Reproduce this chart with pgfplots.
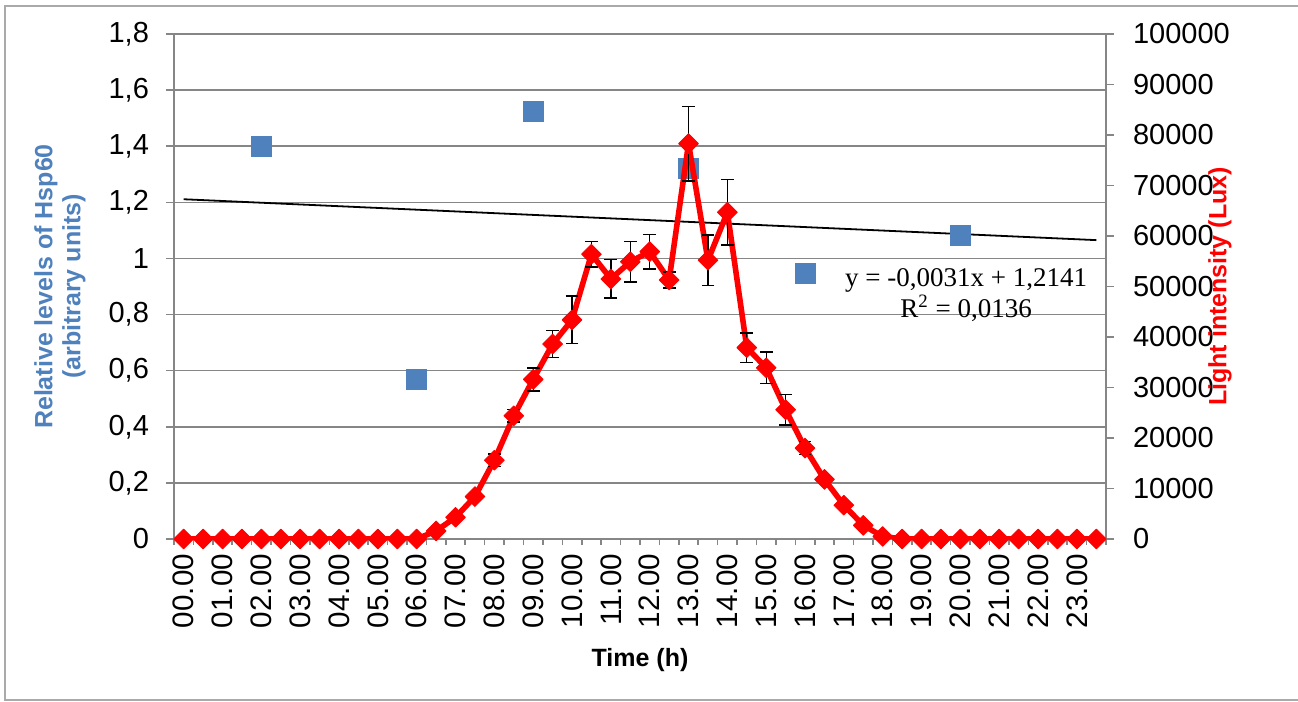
\documentclass[border=0pt]{standalone}
\usepackage{pgfplots}
\pgfplotsset{compat=1.18}
\usepackage{fontspec}
\setmainfont{Liberation Sans}
\newfontfamily\eqfont{Liberation Serif}
\definecolor{hspblue}{RGB}{79,129,189}
\definecolor{gridgray}{RGB}{134,134,134}
\definecolor{framegray}{RGB}{170,170,170}

% light intensity (Lux), one point per half hour, with error
\pgfplotstableread{
t lux err
0 0 0
1 0 0
2 0 0
3 0 0
4 0 0
5 0 0
6 0 0
7 0 0
8 0 0
9 0 0
10 0 0
11 0 0
12 0 0
13 1600 300
14 4300 500
15 8400 800
16 15600 1200
17 24400 1200
18 31600 2300
19 38600 2700
20 43400 4700
21 56400 2500
22 51500 3800
23 54900 4000
24 56900 3400
25 51300 1600
26 78300 7400
27 55200 5000
28 64700 6500
29 37900 2900
30 33900 3100
31 25600 3000
32 18000 1300
33 11800 600
34 6700 500
35 2700 300
36 500 100
37 0 0
38 0 0
39 0 0
40 0 0
41 0 0
42 0 0
43 0 0
44 0 0
45 0 0
46 0 0
47 0 0
}\luxdata

\begin{document}
\begin{tikzpicture}
\useasboundingbox (-87pt,-81.5pt) rectangle (562pt,269.5pt);
\draw[framegray, line width=1pt] (565pt,266.5pt) -- (-84.5pt,266.5pt) -- (-84.5pt,-80.5pt) -- (565pt,-80.5pt);

\begin{axis}[
    scale only axis,
    width=466pt, height=252.5pt,
    xmin=-0.5, xmax=47.5,
    ymin=0, ymax=1.8,
    axis x line*=bottom, axis y line*=left,
    axis line style={gridgray, line width=0.8pt, -},
    ytick={0,0.2,0.4,0.6,0.8,1,1.2,1.4,1.6,1.8},
    ymajorgrids,
    grid style={gridgray, line width=0.8pt},
    tick align=outside,
    major tick length=4pt,
    minor tick length=3pt,
    tick style={gridgray, line width=0.8pt},
    every major x tick/.append style={draw=none},
    xtick={0,2,...,46},
    xticklabels={00.00,01.00,02.00,03.00,04.00,05.00,06.00,07.00,08.00,09.00,10.00,11.00,12.00,13.00,14.00,15.00,16.00,17.00,18.00,19.00,20.00,21.00,22.00,23.00},
    minor xtick={-0.5,0.5,...,47.5},
    xticklabel style={rotate=90, anchor=east, font=\fontsize{14.8}{16}\selectfont},
    yticklabel style={font=\fontsize{14.5}{16}\selectfont, xshift=-5pt,
        /pgf/number format/use comma, /pgf/number format/fixed,
        /pgf/number format/assume math mode=true},
    ylabel={Relative levels of Hsp60\\(arbitrary units)},
    ylabel style={align=center, font=\bfseries\fontsize{12.5}{14}\selectfont, text=hspblue,
        at={(axis description cs:-0.1223,0.5)}, anchor=center},
    xlabel={Time (h)},
    xlabel style={font=\bfseries\fontsize{12.5}{14}\selectfont,
        at={(axis description cs:0.5,-0.2396)}, anchor=center},
]
\addplot[only marks, mark=square*, mark size=5pt, mark options={fill=hspblue, draw=hspblue}]
    coordinates {(4,1.40) (12,0.57) (18,1.525) (26,1.32) (32,0.948) (40,1.083)};
\addplot[black, line width=0.9pt, no marks] coordinates {(0,1.2110) (47,1.0653)};
\node[align=center, font=\eqfont\fontsize{13.5}{15.5}\selectfont] at (axis cs:40.3,0.868)
    {y = -0,0031x + 1,2141\\R\textsuperscript{2} = 0,0136};
\end{axis}

\begin{axis}[
    scale only axis,
    width=466pt, height=252.5pt,
    xmin=-0.5, xmax=47.5,
    ymin=0, ymax=100000,
    axis x line=none,
    axis y line*=right,
    axis line style={gridgray, line width=0.8pt, -},
    tick align=outside,
    major tick length=4pt,
    tick style={gridgray, line width=0.8pt},
    ytick={0,10000,20000,30000,40000,50000,60000,70000,80000,90000,100000},
    scaled y ticks=false,
    yticklabel style={font=\fontsize{14.5}{16}\selectfont, xshift=6pt,
        /pgf/number format/1000 sep={}, /pgf/number format/fixed,
        /pgf/number format/assume math mode=true},
    ylabel={Light intensity (Lux)},
    ylabel style={font=\bfseries\fontsize{12.5}{14}\selectfont, text=red,
        at={(axis description cs:1.1223,0.5)}, anchor=center},
]
\addplot[red, line width=2.8pt, line join=round, mark=square*, mark size=3.5pt,
    mark options={rotate=45, solid, fill=red, draw=red, line width=0.4pt},
    error bars/.cd, y dir=both, y explicit,
    error bar style={black, line width=0.7pt},
    error mark options={rotate=90, black, mark size=3.2pt, line width=0.7pt}]
    table[x=t, y=lux, y error=err] {\luxdata};
\end{axis}
\end{tikzpicture}
\end{document}
